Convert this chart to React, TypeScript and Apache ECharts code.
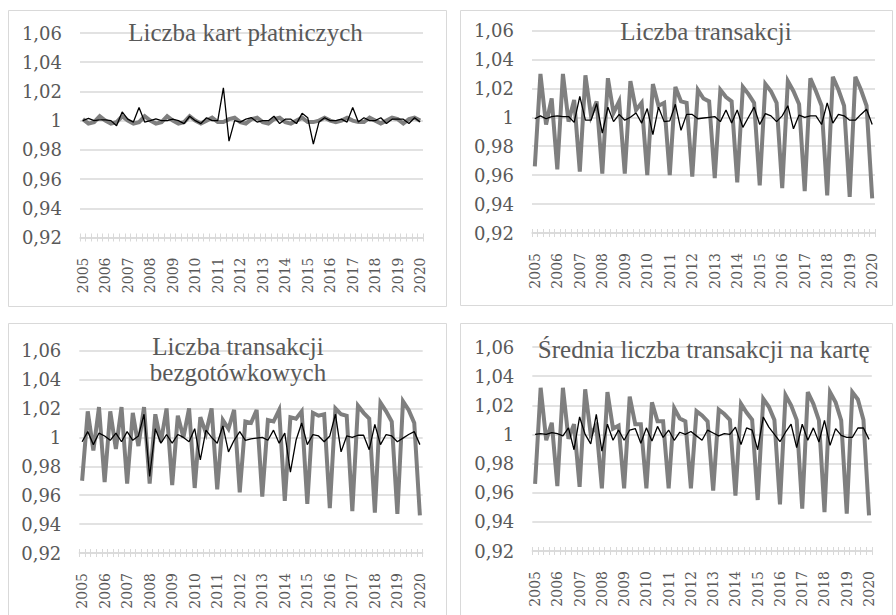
import React, { useEffect, useRef } from "react";
import * as echarts from "echarts";

const years = ["2005","2006","2007","2008","2009","2010","2011","2012","2013","2014","2015","2016","2017","2018","2019","2020"];
const quarters = ["Q1","Q2","Q3","Q4"];
const categories: string[] = years.flatMap((y) => quarters.map((q) => `${y} ${q}`)).slice(0, 61);

const titles = [
  "Liczba kart płatniczych",
  "Liczba transakcji",
  "Liczba transakcji\nbezgotówkowych",
  "Średnia liczba transakcji na kartę",
];

// Liczba kart płatniczych
const cardsSeasonal = [
  1.001, 0.998, 0.999, 1.003,
  1.000, 0.998, 0.999, 1.003,
  1.000, 0.998, 0.999, 1.003,
  1.000, 0.998, 0.999, 1.003,
  1.000, 0.998, 0.999, 1.003,
  1.000, 0.998, 1.000, 1.002,
  0.999, 0.999, 1.001, 1.002,
  0.999, 0.998, 1.001, 1.002,
  0.999, 0.998, 1.001, 1.002,
  0.999, 0.998, 1.000, 1.002,
  0.999, 0.999, 1.000, 1.002,
  1.000, 0.999, 1.000, 1.002,
  1.000, 0.999, 0.999, 1.002,
  1.000, 0.998, 1.000, 1.002,
  1.001, 0.998, 1.001, 1.002,
  1.000,
];
const cardsIrregular = [
  1.000, 1.0015, 1.000, 1.0005, 1.0005, 1.000, 0.9965, 1.006, 1.001, 0.999,
  1.009, 0.999, 1.000, 1.0012, 1.000, 1.000, 1.001, 1.000, 0.998, 1.003,
  1.000, 0.998, 1.002, 1.000, 1.000, 1.0225, 0.986, 1.000, 0.999, 1.001,
  1.002, 0.999, 1.000, 1.000, 1.003, 0.998, 1.001, 1.001, 0.998, 1.005,
  1.002, 0.984, 0.999, 1.002, 1.000, 1.000, 1.001, 0.999, 1.009, 0.999,
  1.002, 1.000, 1.000, 1.002, 0.998, 1.001, 1.001, 1.001, 0.998, 1.002,
  0.999,
];

// Liczba transakcji
const txSeasonal = [
  0.966, 1.030, 0.995, 1.013,
  0.964, 1.030, 0.997, 1.012,
  0.9625, 1.029, 1.001, 1.011,
  0.961, 1.027, 1.003, 1.011,
  0.961, 1.025, 1.005, 1.010,
  0.960, 1.023, 1.008, 1.010,
  0.960, 1.021, 1.011, 1.010,
  0.959, 1.019, 1.013, 1.011,
  0.958, 1.019, 1.014, 1.011,
  0.955, 1.021, 1.016, 1.010,
  0.953, 1.023, 1.018, 1.010,
  0.951, 1.025, 1.018, 1.009,
  0.949, 1.027, 1.018, 1.008,
  0.946, 1.028, 1.019, 1.008,
  0.945, 1.028, 1.019, 1.008,
  0.944,
];
const txIrregular = [
  0.999, 1.001, 0.999, 1.0005, 1.001, 1.0005, 1.0005, 0.9965, 1.0145, 0.998,
  0.998, 1.0095, 0.989, 1.007, 0.997, 1.002, 0.998, 1.000, 1.003, 0.996,
  1.006, 0.988, 1.007, 0.997, 0.9975, 1.009, 0.991, 1.002, 1.002, 0.999,
  0.9995, 1.000, 1.0005, 0.997, 1.005, 0.996, 1.005, 0.993, 1.000, 1.007,
  0.995, 1.0025, 1.001, 0.997, 1.001, 1.008, 0.992, 1.0015, 1.000, 1.001,
  1.001, 0.995, 1.010, 0.996, 1.002, 1.001, 0.998, 0.998, 1.002, 1.0055,
  0.995,
];

// Liczba transakcji bezgotówkowych
const cashlessSeasonal = [
  0.970, 1.018, 0.991, 1.021,
  0.969, 1.018, 0.992, 1.021,
  0.968, 1.017, 0.994, 1.021,
  0.968, 1.016, 0.997, 1.020,
  0.967, 1.015, 1.000, 1.020,
  0.965, 1.014, 1.003, 1.020,
  0.964, 1.012, 1.006, 1.019,
  0.962, 1.011, 1.010, 1.019,
  0.959, 1.012, 1.011, 1.019,
  0.956, 1.014, 1.013, 1.018,
  0.954, 1.017, 1.015, 1.016,
  0.951, 1.020, 1.016, 1.015,
  0.949, 1.022, 1.017, 1.013,
  0.948, 1.024, 1.018, 1.011,
  0.947, 1.025, 1.019, 1.010,
  0.946,
];
const cashlessIrregular = [
  0.997, 1.004, 0.995, 1.003, 1.001, 0.998, 1.003, 0.997, 1.004, 0.998,
  1.001, 1.016, 0.973, 1.006, 0.996, 1.002, 0.996, 1.002, 1.000, 0.997,
  1.006, 0.9845, 1.005, 1.000, 0.996, 1.008, 0.990, 0.998, 1.004, 0.998,
  0.999, 0.9995, 1.000, 0.998, 1.005, 0.996, 1.003, 0.976, 0.998, 1.010,
  0.995, 1.002, 1.001, 0.997, 1.001, 1.016, 0.990, 1.001, 1.000, 1.0015,
  1.0015, 0.9915, 1.009, 0.995, 1.002, 1.001, 0.997, 0.9995, 1.002, 1.004,
  0.995,
];

// Średnia liczba transakcji na kartę
const perCardSeasonal = [
  0.966, 1.032, 0.996, 1.008,
  0.9645, 1.032, 0.997, 1.007,
  0.964, 1.031, 1.000, 1.006,
  0.963, 1.029, 1.004, 1.006,
  0.963, 1.026, 1.007, 1.007,
  0.963, 1.022, 1.009, 1.009,
  0.963, 1.018, 1.011, 1.009,
  0.963, 1.016, 1.013, 1.009,
  0.9615, 1.017, 1.014, 1.010,
  0.958, 1.021, 1.015, 1.010,
  0.955, 1.0245, 1.019, 1.010,
  0.952, 1.027, 1.020, 1.010,
  0.949, 1.029, 1.021, 1.0096,
  0.9467, 1.029, 1.022, 1.0096,
  0.9456, 1.029, 1.024, 1.010,
  0.9444,
];
const perCardIrregular = [
  1.000, 1.0005, 1.000, 1.0013, 1.0005, 0.999, 1.0045, 0.9895, 1.012, 1.000,
  0.9935, 1.0137, 0.9885, 1.007, 0.996, 1.003, 0.996, 1.003, 1.004, 0.994,
  1.0045, 0.9955, 1.0055, 0.998, 1.003, 0.996, 1.0015, 1.000, 1.002, 0.999,
  0.996, 1.003, 1.001, 0.999, 1.0005, 1.000, 1.005, 0.993, 1.0045, 1.003,
  0.9895, 1.012, 1.005, 1.000, 0.995, 1.0015, 1.007, 0.991, 1.007, 0.996,
  1.0045, 0.9948, 1.0096, 0.9925, 1.004, 0.9993, 0.998, 0.998, 1.0044, 1.0044,
  0.9966,
];

const panelSeasonal = [cardsSeasonal, txSeasonal, cashlessSeasonal, perCardSeasonal];
const panelIrregular = [cardsIrregular, txIrregular, cashlessIrregular, perCardIrregular];

const TITLE_FONT = "Liberation Serif, Tinos, DejaVu Serif, serif";
const AXIS_FONT = "DejaVu Serif";
const TEXT = "#595959";
const LIGHT = "#d9d9d9";

const grids = [
  { left: 80, top: 33, width: 343, height: 204.5 },
  { left: 532, top: 30.5, width: 343, height: 202.5 },
  { left: 79.3, top: 350.7, width: 343.4, height: 202.3 },
  { left: 532.3, top: 347, width: 339.5, height: 204 },
];
const titlePos = [
  { x: 245.5, y: 32.2 },
  { x: 706, y: 31.3 },
  { x: 238, y: 359.5 },
  { x: 703.7, y: 349.3 },
];
const borders = [
  { x: 8.5, y: 10.5, width: 438, height: 296 },
  { x: 460.5, y: 10.5, width: 432, height: 295 },
  { x: 8.5, y: 323.5, width: 438, height: 300 },
  { x: 460.5, y: 323.5, width: 432, height: 300 },
];

function fmtY(v: number) {
  return parseFloat(v.toFixed(2)).toString().replace(".", ",");
}

export default function App() {
  const ref = useRef<HTMLDivElement>(null);
  useEffect(() => {
    if (!ref.current) return;
    const chart = echarts.init(ref.current, null, { renderer: "svg" });
    const xAxis: any[] = [];
    const yAxis: any[] = [];
    const series: any[] = [];
    grids.forEach((_, k) => {
      xAxis.push({
        type: "category",
        gridIndex: k,
        position: "bottom",
        data: categories,
        boundaryGap: true,
        axisLine: { show: true, onZero: false, lineStyle: { color: LIGHT, width: 1.5 } },
        axisTick: { show: true, interval: 0, length: 4, lineStyle: { color: LIGHT, width: 1 } },
        axisLabel: {
          interval: 3,
          rotate: 90,
          margin: 20,
          fontFamily: AXIS_FONT,
          fontSize: 14,
          color: TEXT,
          formatter: (v: string) => v.slice(0, 4),
        },
        splitLine: { show: false },
      });
      xAxis.push({
        type: "category",
        gridIndex: k,
        position: "bottom",
        data: categories,
        boundaryGap: true,
        axisLine: { show: false, onZero: false },
        axisTick: { show: true, inside: true, interval: 0, length: 4, lineStyle: { color: LIGHT, width: 1 } },
        axisLabel: { show: false },
        splitLine: { show: false },
      });
      yAxis.push({
        type: "value",
        gridIndex: k,
        min: 0.92,
        max: 1.06,
        interval: 0.02,
        axisLine: { show: false },
        axisTick: { show: false },
        axisLabel: { margin: 18, fontFamily: AXIS_FONT, fontSize: 18, color: TEXT, formatter: fmtY },
        splitLine: { show: true, lineStyle: { color: LIGHT, width: 1.5 } },
      });
      series.push({
        type: "line",
        xAxisIndex: 2 * k,
        yAxisIndex: k,
        data: panelSeasonal[k],
        symbol: "none",
        lineStyle: { color: "#7f7f7f", width: 4, cap: "butt", join: "miter" },
        z: 2,
      });
      series.push({
        type: "line",
        xAxisIndex: 2 * k,
        yAxisIndex: k,
        data: panelIrregular[k],
        symbol: "none",
        lineStyle: { color: "#000000", width: 1.3 },
        z: 3,
      });
    });
    const graphic: any[] = [];
    borders.forEach((b) => {
      graphic.push({
        type: "rect",
        shape: b,
        style: { fill: "none", stroke: LIGHT, lineWidth: 1 },
        silent: true,
        z: -1,
      });
    });
    titles.forEach((t, k) => {
      graphic.push({
        type: "text",
        x: titlePos[k].x,
        y: titlePos[k].y,
        z: 10,
        style: {
          text: t,
          fill: TEXT,
          font: `25px ${TITLE_FONT}`,
          lineHeight: 26,
          textAlign: "center",
          textVerticalAlign: "middle",
        },
      });
    });
    chart.setOption({
      animation: false,
      backgroundColor: "#ffffff",
      textStyle: { fontFamily: AXIS_FONT },
      grid: grids.map((g) => ({ ...g, containLabel: false })),
      xAxis,
      yAxis,
      series,
      graphic,
    });
    return () => chart.dispose();
  }, []);
  return (
    <div
      ref={ref}
      style={{ position: "absolute", left: 0, top: 0, width: 896, height: 615 }}
    />
  );
}
